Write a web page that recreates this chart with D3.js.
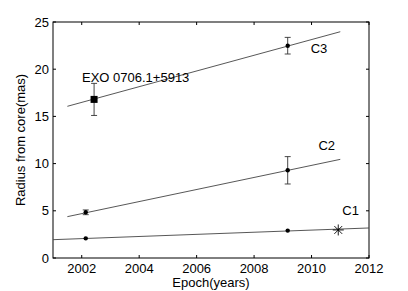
<!DOCTYPE html>
<html><head><meta charset="utf-8">
<script src="https://cdn.jsdelivr.net/npm/d3@7"></script>
<style>body{margin:0;background:#fff}svg{display:block}text{font-family:"Liberation Sans",Arial,sans-serif}</style>
</head><body><svg id="c" width="408" height="291"></svg>
<script>
const xTicks=[2002,2004,2006,2008,2010,2012];
const yTicks=[0,5,10,15,20,25];
// component fits: [startYear, startVal, endYear, endVal]
const components=["C1","C2","C3"];
const fitLines=[[2001,1.94,2012,3.18],[2001.5,4.38,2011.0,10.45],[2001.5,16.07,2011.0,23.97]];
const epochs=[2002.14,2009.17];
const values={C1:[2.08,2.90],C2:[4.84,9.29],C3:[null,22.49]};
const errors={C1:[0,0],C2:[0.25,1.45],C3:[0,0.88]};
const squarePoint=[2002.43,16.8];
const squareError=1.7;
const starPoint=[2010.93,2.97];
const labelPos={C1:[2011.07,4.6],C2:[2010.24,11.45],C3:[2009.97,21.7]};
const title="EXO 0706.1+5913";

const svg=d3.select("#c");
const L=53,R=369,T=22,B=258;
const x=d3.scaleLinear().domain([2001,2012]).range([L,R]);
const y=d3.scaleLinear().domain([0,25]).range([B,T]);
const g=svg.append("g");
const FS=13;
g.append("rect").attr("x",L).attr("y",T).attr("width",R-L).attr("height",B-T).attr("fill","none").attr("stroke","#000").attr("stroke-width",1);
const tl=3;
xTicks.forEach(t=>{
  g.append("line").attr("x1",x(t)).attr("x2",x(t)).attr("y1",B).attr("y2",B-tl).attr("stroke","#000");
  g.append("line").attr("x1",x(t)).attr("x2",x(t)).attr("y1",T).attr("y2",T+tl).attr("stroke","#000");
  g.append("text").attr("x",x(t)).attr("y",B+15).attr("text-anchor","middle").attr("font-size",FS).text(t);
});
yTicks.forEach(t=>{
  g.append("line").attr("x1",L).attr("x2",L+tl).attr("y1",y(t)).attr("y2",y(t)).attr("stroke","#000");
  g.append("line").attr("x1",R).attr("x2",R-tl).attr("y1",y(t)).attr("y2",y(t)).attr("stroke","#000");
  g.append("text").attr("x",L-4).attr("y",y(t)+4.5).attr("text-anchor","end").attr("font-size",FS).text(t);
});
g.append("text").attr("x",(L+R)/2).attr("y",287).attr("text-anchor","middle").attr("font-size",FS).text("Epoch(years)");
g.append("text").attr("transform","translate(25,"+((T+B)/2)+") rotate(-90)").attr("text-anchor","middle").attr("font-size",FS).text("Radius from core(mas)");

function errBar(e,v,er){
  g.append("line").attr("x1",x(e)).attr("x2",x(e)).attr("y1",y(v-er)).attr("y2",y(v+er)).attr("stroke","#333").attr("stroke-width",0.9);
  [v-er,v+er].forEach(w=>g.append("line").attr("x1",x(e)-3).attr("x2",x(e)+3).attr("y1",y(w)).attr("y2",y(w)).attr("stroke","#333").attr("stroke-width",0.9));
}
components.forEach((c,i)=>{
  const f=fitLines[i];
  g.append("line").attr("x1",x(f[0])).attr("y1",y(f[1])).attr("x2",x(f[2])).attr("y2",y(f[3])).attr("stroke","#444").attr("stroke-width",0.9);
  epochs.forEach((e,j)=>{
    const v=values[c][j],er=errors[c][j];
    if(v===null) return;
    if(er>0) errBar(e,v,er);
    g.append("circle").attr("cx",x(e)).attr("cy",y(v)).attr("r",2.2).attr("fill","#000");
  });
  const lp=labelPos[c];
  g.append("text").attr("x",x(lp[0])).attr("y",y(lp[1])).attr("font-size",FS).text(c);
});
// square marker with error bar
const sx=x(squarePoint[0]),sy=y(squarePoint[1]);
errBar(squarePoint[0],squarePoint[1],squareError);
g.append("rect").attr("x",sx-3.5).attr("y",sy-3.5).attr("width",7).attr("height",7).attr("fill","#000");
// star
const stx=x(starPoint[0]),sty=y(starPoint[1]),s=5.5;
[[0,1],[1,0],[0.71,0.71],[0.71,-0.71]].forEach(d=>g.append("line").attr("x1",stx-s*d[0]).attr("x2",stx+s*d[0]).attr("y1",sty-s*d[1]).attr("y2",sty+s*d[1]).attr("stroke","#000").attr("stroke-width",0.9));
g.append("text").attr("x",82).attr("y",y(19.1)+4.5).attr("font-size",FS).text(title);
</script></body></html>
